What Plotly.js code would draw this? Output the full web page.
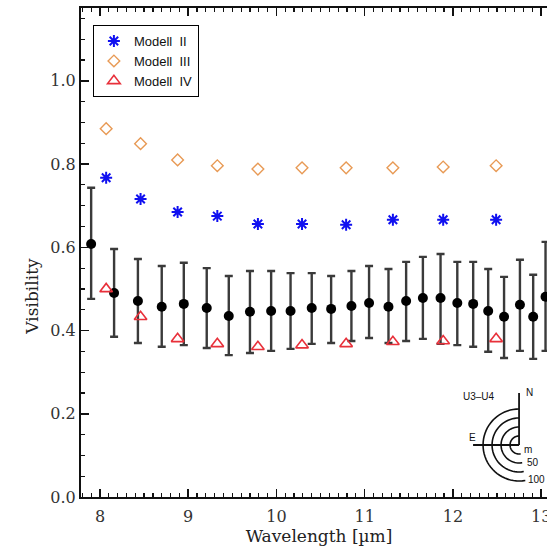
<!DOCTYPE html>
<html>
<head>
<meta charset="utf-8">
<script src="https://cdn.plot.ly/plotly-3.0.1.min.js"></script>
<style>
  html, body { margin: 0; padding: 0; overflow: hidden; background: #fff; }
  #chart { width: 570px; height: 554px; }
</style>
</head>
<body>
<div id="chart"></div>
<script>
// Measured data (wavelength in micrometres)
const wavelength = [7.90, 8.16, 8.43, 8.70, 8.95, 9.21, 9.46, 9.70, 9.94, 10.16, 10.40, 10.62, 10.85,
                    11.05, 11.27, 11.47, 11.66, 11.86, 12.05, 12.23, 12.40, 12.58, 12.76, 12.91, 13.05];
const visibility = [0.608, 0.490, 0.471, 0.457, 0.464, 0.454, 0.435, 0.445, 0.447, 0.447, 0.454, 0.452, 0.459,
                    0.466, 0.457, 0.471, 0.478, 0.478, 0.466, 0.464, 0.447, 0.433, 0.462, 0.433, 0.481];
const errPlus  = [0.135, 0.106, 0.101, 0.098, 0.099, 0.096, 0.096, 0.098, 0.096, 0.091, 0.084, 0.079, 0.084,
                  0.089, 0.091, 0.094, 0.099, 0.106, 0.099, 0.101, 0.101, 0.096, 0.108, 0.101, 0.132];
const errMinus = [0.132, 0.105, 0.101, 0.096, 0.099, 0.096, 0.094, 0.099, 0.096, 0.091, 0.086, 0.082, 0.084,
                  0.084, 0.087, 0.096, 0.098, 0.110, 0.101, 0.103, 0.098, 0.099, 0.111, 0.101, 0.130];

// Model predictions
const modelWavelength = [8.07, 8.46, 8.88, 9.33, 9.79, 10.29, 10.79, 11.32, 11.89, 12.49];
const model2 = [0.767, 0.716, 0.685, 0.675, 0.656, 0.656, 0.654, 0.666, 0.666, 0.666];
const model3 = [0.885, 0.849, 0.810, 0.796, 0.788, 0.791, 0.791, 0.791, 0.793, 0.796];
const model4 = [0.500, 0.433, 0.380, 0.368, 0.361, 0.365, 0.368, 0.373, 0.375, 0.380];

const legendNames = ['Modell\u00a0\u00a0II', 'Modell\u00a0\u00a0III', 'Modell\u00a0\u00a0IV'];
const yTickVals = [0.0, 0.2, 0.4, 0.6, 0.8, 1.0];
const xTickVals = [8, 9, 10, 11, 12, 13];

const traces = [
  {
    x: wavelength, y: visibility, type: 'scatter', mode: 'markers', showlegend: false,
    marker: { symbol: 'circle', size: 10, color: '#000' },
    error_y: { type: 'data', symmetric: false, array: errPlus, arrayminus: errMinus,
               color: '#3a3a3a', thickness: 2.4, width: 4 }
  },
  {
    x: modelWavelength, y: model2, type: 'scatter', mode: 'markers', name: legendNames[0],
    marker: { symbol: 'asterisk', size: 10, color: '#1010f0', line: { color: '#1010f0', width: 2 } }
  },
  {
    x: modelWavelength, y: model3, type: 'scatter', mode: 'markers', name: legendNames[1],
    marker: { symbol: 'diamond-open', size: 9, color: '#e89a55', line: { color: '#e89a55', width: 1.4 } }
  },
  {
    x: modelWavelength, y: model4, type: 'scatter', mode: 'markers', name: legendNames[2],
    marker: { symbol: 'triangle-up-open', size: 11, color: '#e8303a', line: { color: '#e8303a', width: 1.6 } }
  }
];

// Baseline orientation inset (decorative), drawn in pixel offsets from an anchor
const cx = 12.75, cy = 0.125;
const shapes = [];
function arcPath(r) {
  let p = '';
  const n = 40;
  for (let i = 0; i <= n; i++) {
    const a = (90 + i * (190 / n)) * Math.PI / 180;
    const px = r * Math.cos(a), py = r * Math.sin(a);
    p += (i === 0 ? 'M' : 'L') + px.toFixed(2) + ',' + py.toFixed(2);
  }
  return p;
}
[9, 18, 27, 36].forEach(r => {
  shapes.push({ type: 'path', xref: 'x', yref: 'y', xsizemode: 'pixel', ysizemode: 'pixel',
    xanchor: cx, yanchor: cy, path: arcPath(r), line: { color: '#111', width: 1.6 } });
});
shapes.push({ type: 'path', xref: 'x', yref: 'y', xsizemode: 'pixel', ysizemode: 'pixel',
  xanchor: cx, yanchor: cy, path: 'M0,0L0,52', line: { color: '#111', width: 1.8 } });
shapes.push({ type: 'path', xref: 'x', yref: 'y', xsizemode: 'pixel', ysizemode: 'pixel',
  xanchor: cx, yanchor: cy, path: 'M0,0L-46,0', line: { color: '#111', width: 1.8 } });

const sansFont = { family: 'Liberation Sans, Arial, sans-serif', size: 10, color: '#111' };
const annotations = [
  { xref: 'paper', yref: 'paper', x: -0.13, y: 0.41, text: 'Visibility', textangle: -90,
    showarrow: false, font: { family: 'DejaVu Serif, serif', size: 17, color: '#222' } },
  { xref: 'x', yref: 'y', x: cx, y: cy, text: 'U3\u2013U4', showarrow: false, xshift: -40, yshift: 48, font: sansFont },
  { xref: 'x', yref: 'y', x: cx, y: cy, text: 'N', showarrow: false, xshift: 10, yshift: 52, font: sansFont },
  { xref: 'x', yref: 'y', x: cx, y: cy, text: 'E', showarrow: false, xshift: -47, yshift: 7, font: sansFont },
  { xref: 'x', yref: 'y', x: cx, y: cy, text: 'm', showarrow: false, xshift: 9, yshift: -5, font: sansFont },
  { xref: 'x', yref: 'y', x: cx, y: cy, text: '50', showarrow: false, xshift: 14, yshift: -18, font: sansFont },
  { xref: 'x', yref: 'y', x: cx, y: cy, text: '100', showarrow: false, xshift: 17, yshift: -35, font: sansFont }
];

const serifTick = { family: 'DejaVu Serif, serif', size: 16, color: '#333' };

const layout = {
  width: 570, height: 554,
  margin: { l: 81, r: 13, t: 8, b: 57 },
  paper_bgcolor: '#fff', plot_bgcolor: '#fff',
  showlegend: true,
  legend: {
    x: 0.025, y: 0.965, xanchor: 'left', yanchor: 'top',
    bgcolor: '#fff', bordercolor: '#000', borderwidth: 1,
    font: { family: 'Liberation Sans, Arial, sans-serif', size: 13, color: '#111' },
    tracegroupgap: 0, itemwidth: 30
  },
  xaxis: {
    range: [7.785, 13.18], tickvals: xTickVals, ticktext: xTickVals.map(String),
    ticks: 'inside', ticklen: 8, tickwidth: 1.5, tickcolor: '#111',
    minor: { dtick: 0.1, tick0: 0, ticks: 'inside', ticklen: 4, tickwidth: 1.2, tickcolor: '#111' },
    showline: true, linecolor: '#111', linewidth: 2, mirror: 'allticks',
    showgrid: false, zeroline: false, ticklabelstandoff: 4,
    tickfont: serifTick,
    title: { text: 'Wavelength [\u00b5m]', font: { family: 'DejaVu Serif, serif', size: 17, color: '#222' }, standoff: 2 }
  },
  yaxis: {
    range: [0, 1.175], tickvals: yTickVals, ticktext: yTickVals.map(v => v.toFixed(1)),
    ticks: 'inside', ticklen: 8, tickwidth: 1.5, tickcolor: '#111',
    minor: { dtick: 0.05, tick0: 0, ticks: 'inside', ticklen: 4, tickwidth: 1.2, tickcolor: '#111' },
    showline: true, linecolor: '#111', linewidth: 2, mirror: 'allticks',
    showgrid: false, zeroline: false,
    tickfont: serifTick
  },
  shapes: shapes,
  annotations: annotations
};

Plotly.newPlot('chart', traces, layout, { staticPlot: true, displayModeBar: false });
</script>
</body>
</html>
